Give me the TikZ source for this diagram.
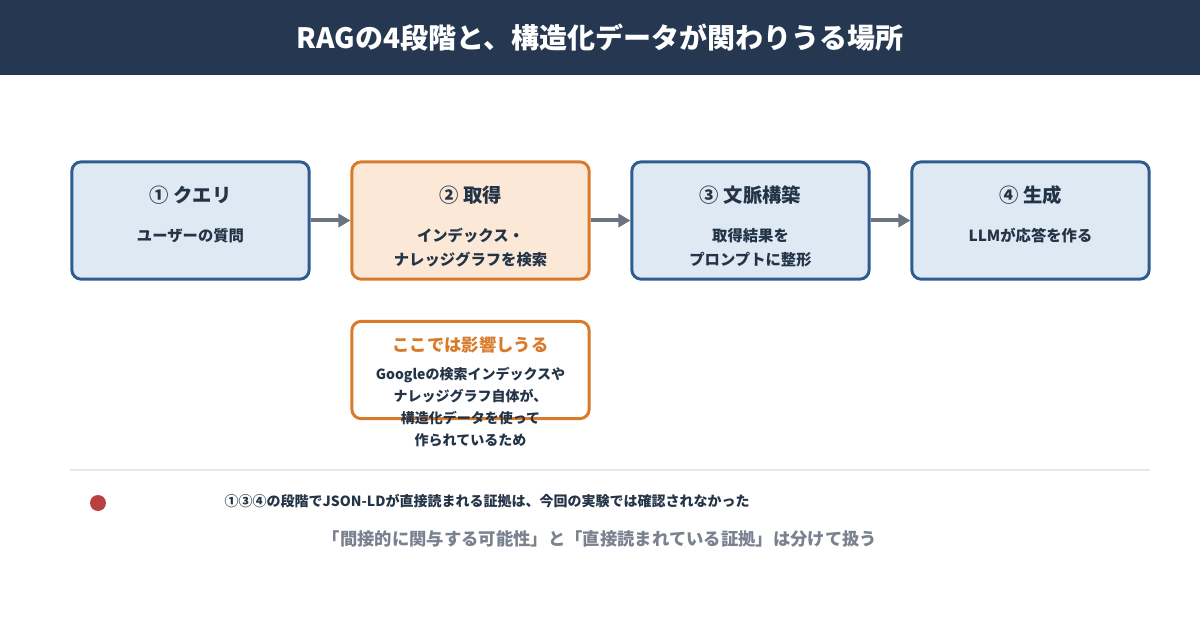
\documentclass[tikz,border=0pt]{standalone}
\usepackage{fontspec}
\setmainfont{Noto Sans CJK JP}
\usetikzlibrary{arrows.meta}
\definecolor{navy}{HTML}{253751}
\definecolor{bfill}{HTML}{DFE9F4}
\definecolor{bline}{HTML}{2F5C8F}
\definecolor{ofill}{HTML}{FBE8D6}
\definecolor{oline}{HTML}{D9792A}
\definecolor{txt}{HTML}{243447}
\definecolor{arr}{HTML}{6B7380}
\definecolor{gtxt}{HTML}{7A8290}
\definecolor{dot}{HTML}{B94040}
\definecolor{sep}{HTML}{E4E7EB}
\begin{document}
\begin{tikzpicture}[x=0.75pt,y=-0.75pt,
 stage/.style={draw=bline,fill=bfill,line width=2.2pt,rounded corners=7pt,minimum width=178pt,minimum height=88pt,inner sep=0pt},
 ostage/.style={stage,draw=oline,fill=ofill},
 ttl/.style={text=txt,font=\fontsize{14.5}{17}\selectfont\bfseries},
 sub/.style={text=txt,font=\fontsize{11.5}{18}\selectfont\bfseries,align=center},
 conn/.style={draw=arr,line width=3pt,-{Triangle[length=9pt,width=10pt]}}]
\useasboundingbox (0,0) rectangle (1200,630);
\fill[navy] (0,0) rectangle (1200,75);
\node[text=white,font=\fontsize{21}{25}\selectfont\bfseries] (title) at (600,38) {RAGの4段階と、構造化データが関わりうる場所};
\node[stage] (b1) at (190.5,220.5) {};
\node[ostage] (b2) at (470.5,220.5) {};
\node[stage] (b3) at (750.5,220.5) {};
\node[stage] (b4) at (1030.5,220.5) {};
\node[ttl] (t1) at (190.5,195) {① クエリ};
\node[ttl] (t2) at (470.5,195) {② 取得};
\node[ttl] (t3) at (750.5,195) {③ 文脈構築};
\node[ttl] (t4) at (1030.5,195) {④ 生成};
\node[sub] (s1) at (190.5,236) {ユーザーの質問};
\node[sub] (s2) at (470.5,248) {インデックス・\\ナレッジグラフを検索};
\node[sub] (s3) at (750.5,248) {取得結果を\\プロンプトに整形};
\node[sub] (s4) at (1030.5,236) {LLMが応答を作る};
\draw[conn] (b1.east) -- (b2.west);
\draw[conn] (b2.east) -- (b3.west);
\draw[conn] (b3.east) -- (b4.west);
\node[draw=oline,fill=white,line width=2.2pt,rounded corners=7pt,minimum width=178pt,minimum height=73pt,inner sep=0pt] (nb) at (470.5,370) {};
\node[text=oline,font=\fontsize{13}{16}\selectfont\bfseries] (nt) at (470.5,345) {ここでは影響しうる};
\node[text=txt,font=\fontsize{10.5}{16.5}\selectfont\bfseries,align=center] (nx) at (470.5,407) {Googleの検索インデックスや\\ナレッジグラフ自体が、\\構造化データを使って\\作られているため};
\draw[sep,line width=1pt] (70,470) -- (1150,470);
\fill[dot] (98,503) circle (8);
\node[text=txt,font=\fontsize{10.5}{13}\selectfont\bfseries,anchor=west] (n1) at (220,501) {①③④の段階でJSON-LDが直接読まれる証拠は、今回の実験では確認されなかった};
\node[text=gtxt,font=\fontsize{13}{16}\selectfont\bfseries] (n2) at (600,539) {「間接的に関与する可能性」と「直接読まれている証拠」は分けて扱う};
\end{tikzpicture}
\end{document}
